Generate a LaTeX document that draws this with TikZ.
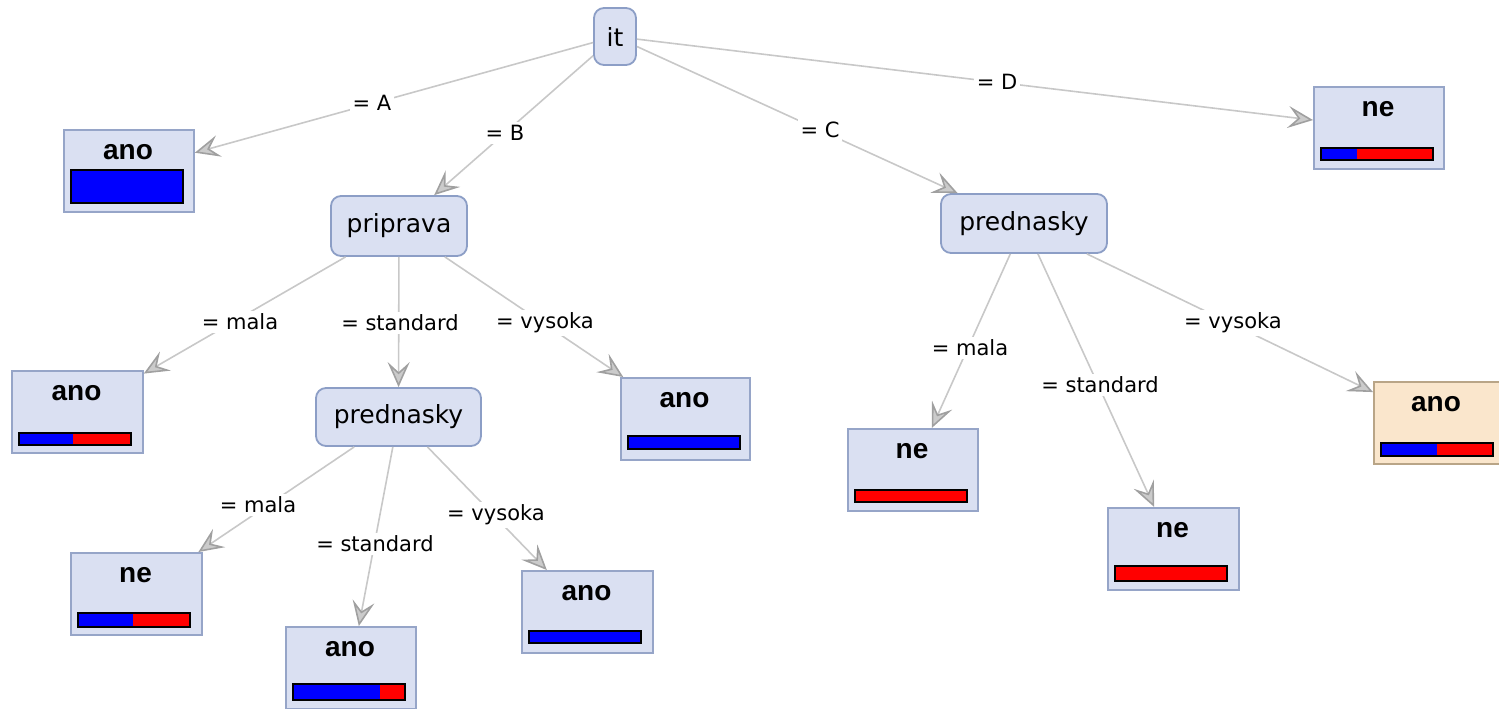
\documentclass[tikz,border=0pt]{standalone}
\usepackage{fontspec}
\setmainfont{DejaVu Sans}
\newfontfamily\titlefont{Liberation Sans}
\usetikzlibrary{arrows.meta}
\definecolor{nodefill}{RGB}{218,224,242}
\definecolor{nodeline}{RGB}{140,158,198}
\definecolor{leafline}{RGB}{150,165,200}
\definecolor{hifill}{RGB}{250,230,204}
\definecolor{hiline}{RGB}{185,165,135}
\definecolor{edgegray}{RGB}{200,200,200}
\definecolor{tipgray}{RGB}{160,160,160}
\definecolor{barblue}{RGB}{0,0,255}
\definecolor{barred}{RGB}{255,0,0}
\tikzset{
  inner/.style={draw=nodeline, fill=nodefill, line width=0.9pt, rounded corners=5pt,
    inner sep=0pt, font=\fontsize{12.5}{14}\selectfont},
  leaf/.style={draw=leafline, fill=nodefill, line width=0.9pt, inner sep=0pt,
    minimum width=65pt, minimum height=41pt, anchor=north west},
  hileaf/.style={leaf, draw=hiline, fill=hifill},
  leaftitle/.style={font=\titlefont\bfseries\fontsize{14}{16}\selectfont, inner sep=0pt},
  branch/.style={draw=edgegray, line width=0.8pt,
    -{Stealth[length=12.5pt, width=11pt, inset=5pt, fill=tipgray!55, color=tipgray]}},
  cond/.style={fill=white, inner sep=1.5pt, font=\fontsize{10.5}{12}\selectfont}
}
% leaf: name, left, top, style, title, blue width (of 112), bar offset, bar height, box width
\newcommand\leafbox[9]{%
  \node[#4, minimum width=#9*0.5pt] (#1) at (#2,#3) {};
  \node[leaftitle] (#1-t) at (#2+#9/2,#3+23) {#5};
  \fill[barblue] (#2+8,#3+#7) rectangle (#2+8+#6,#3+#7+#8);
  \fill[barred] (#2+8+#6,#3+#7) rectangle (#2+120,#3+#7+#8);
  \draw[black, line width=1pt] (#2+8,#3+#7) rectangle (#2+120,#3+#7+#8);
}
\begin{document}
\begin{tikzpicture}[x=0.5pt, y=-0.5pt]
\useasboundingbox (0,0) rectangle (1499,708);

% decision nodes
\node[inner, minimum width=21pt, minimum height=28.5pt] (it) at (615,36.5) {it};
\node[inner, minimum width=68pt, minimum height=30pt] (prip) at (399,226) {priprava};
\node[inner, minimum width=83pt, minimum height=29.5pt] (predR) at (1024,223.5) {prednasky};
\node[inner, minimum width=82.5pt, minimum height=29pt] (predM) at (398.5,417) {prednasky};

% leaves
\leafbox{lA}{63}{129}{leaf}{ano}{112}{41}{33}{130}
\leafbox{lD}{1313}{86}{leaf}{ne}{36}{62}{12}{130}
\leafbox{lPm}{11}{370}{leaf}{ano}{54}{63}{12}{131}
\leafbox{lPv}{620}{377}{leaf}{ano}{112}{59}{13}{129}
\leafbox{lMm}{70}{552}{leaf}{ne}{55}{61}{14}{131}
\leafbox{lMs}{285}{626}{leaf}{ano}{87}{58}{16}{130}
\leafbox{lMv}{521}{570}{leaf}{ano}{112}{61}{12}{131}
\leafbox{lRm}{847}{428}{leaf}{ne}{0}{62}{12}{130}
\leafbox{lRs}{1107}{507}{leaf}{ne}{0}{59}{15}{131}
\leafbox{lRv}{1373}{381}{hileaf}{ano}{56}{62}{13}{126}

% branches
\draw[branch] (it) -- (lA);
\draw[branch] (it) -- (prip);
\draw[branch] (it) -- (predR);
\draw[branch] (it) -- (lD);
\draw[branch] (prip) -- (lPm);
\draw[branch] (prip) -- (predM);
\draw[branch] (prip) -- (lPv);
\draw[branch] (predM) -- (lMm);
\draw[branch] (predM) -- (lMs);
\draw[branch] (predM) -- (lMv);
\draw[branch] (predR) -- (lRm);
\draw[branch] (predR) -- (lRs);
\draw[branch] (predR) -- (lRv);

% branch conditions
\node[cond] (cA) at (372,103) {= A};
\node[cond] (cB) at (505,133) {= B};
\node[cond] (cC) at (820,130) {= C};
\node[cond] (cD) at (997,82) {= D};
\node[cond] (cPm) at (240,322) {= mala};
\node[cond] (cPs) at (400,323) {= standard};
\node[cond] (cPv) at (545,323) {= vysoka};
\node[cond] (cMm) at (258,505) {= mala};
\node[cond] (cMs) at (375,544) {= standard};
\node[cond] (cMv) at (496,515) {= vysoka};
\node[cond] (cRm) at (970,348) {= mala};
\node[cond] (cRs) at (1100,385) {= standard};
\node[cond] (cRv) at (1233,323) {= vysoka};
\end{tikzpicture}
\end{document}
